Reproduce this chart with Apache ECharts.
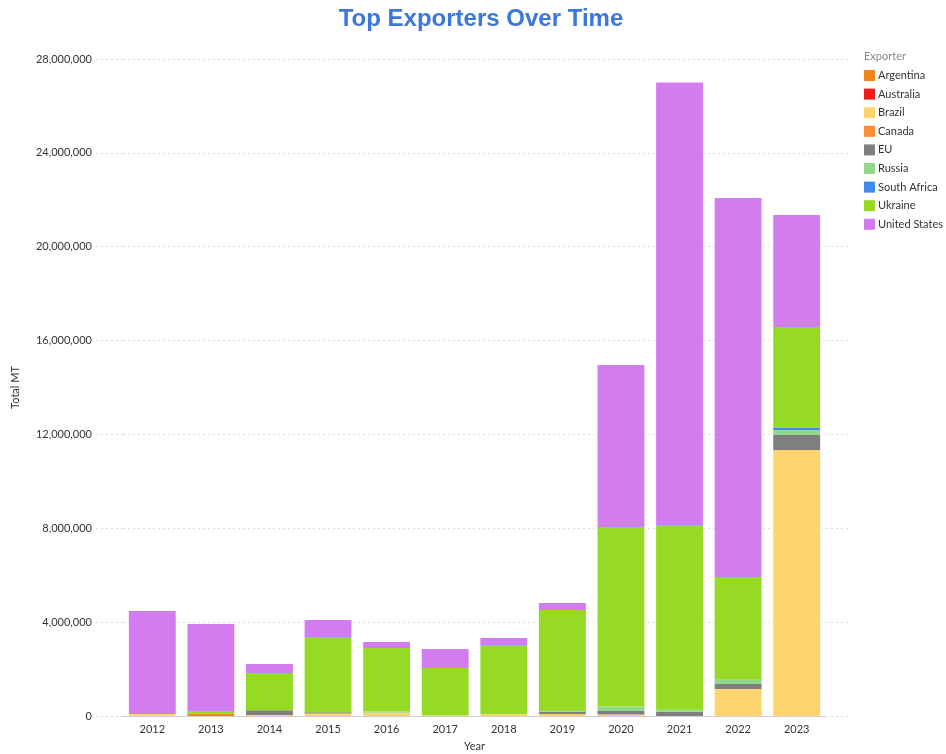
<!DOCTYPE html>
<html>
<head>
<meta charset="utf-8">
<script src="https://cdn.jsdelivr.net/npm/echarts@6/dist/echarts.min.js"></script>
<style>
    html, body { margin: 0; padding: 0; background: #fff; }
    #chart { width: 946px; height: 754px; }
</style>
</head>
<body>
<div id="chart"></div>
<script>
var years = ["2012", "2013", "2014", "2015", "2016", "2017", "2018", "2019", "2020", "2021", "2022", "2023"];

var exporters = ["Argentina", "Australia", "Brazil", "Canada", "EU", "Russia", "South Africa", "Ukraine", "United States"];
var colors = ["#F0851A", "#EE1C1C", "#FFD36E", "#FF8C36", "#7F7F7F", "#92D88C", "#3D8BEF", "#96DA26", "#D37CF0"];

var argentina = [0, 100000, 0, 0, 0, 0, 0, 0, 0, 0, 0, 0];
var australia = [0, 0, 0, 0, 0, 0, 0, 0, 0, 0, 0, 0];
var brazil = [80000, 0, 40000, 110000, 140000, 20000, 70000, 80000, 60000, 0, 1150000, 11340000];
var canada = [0, 0, 0, 0, 0, 0, 0, 0, 0, 0, 0, 0];
var eu = [0, 0, 200000, 50000, 0, 0, 0, 100000, 150000, 180000, 210000, 640000];
var russia = [0, 0, 0, 0, 50000, 0, 0, 30000, 200000, 90000, 180000, 210000];
var southAfrica = [0, 0, 0, 0, 0, 0, 0, 0, 0, 0, 0, 100000];
var ukraine = [0, 80000, 1590000, 3210000, 2710000, 2030000, 2960000, 4310000, 7640000, 7870000, 4380000, 4290000];
var unitedStates = [4390000, 3740000, 390000, 720000, 250000, 810000, 290000, 300000, 6910000, 18860000, 16160000, 4770000];

var yTicks = [0, 4000000, 8000000, 12000000, 16000000, 20000000, 24000000, 28000000];

var seriesValues = [argentina, australia, brazil, canada, eu, russia, southAfrica, ukraine, unitedStates];

var chart = echarts.init(document.getElementById("chart"));

var series = exporters.map(function(name, i) {
    return {
        name: name,
        type: "bar",
        stack: "total",
        barWidth: "80%",
        itemStyle: { color: colors[i] },
        data: seriesValues[i]
    };
});

var gridLine = { color: "#dcdcdc", type: [2, 3], width: 1 };

var option = {
    animation: false,
    textStyle: { fontFamily: "Lato" },
    title: {
        text: "Top Exporters Over Time",
        left: 476,
        textAlign: "center",
        top: 2,
        textStyle: {
            fontFamily: "Liberation Sans",
            fontSize: 24,
            fontWeight: "bold",
            color: "#3A78DC"
        }
    },
    legend: {
        orient: "vertical",
        left: 859,
        top: 65,
        icon: "rect",
        itemWidth: 11,
        itemHeight: 11,
        itemGap: 7.6,
        textStyle: { fontSize: 11, color: "#333", padding: [0, 0, 0, -2] },
        data: exporters
    },
    graphic: [{
        type: "text",
        left: 864,
        top: 51,
        style: { text: "Exporter", fill: "#888", fontSize: 11, fontFamily: "Lato" }
    }],
    grid: { left: 123, right: 120, top: 59, bottom: 38, outerBoundsMode: "none" },
    xAxis: {
        type: "category",
        data: years,
        name: "Year",
        nameLocation: "middle",
        nameGap: 25,
        nameTextStyle: { fontSize: 11, color: "#333" },
        axisLine: { lineStyle: { color: "#d0d0d0" } },
        axisTick: { show: false },
        axisLabel: { fontSize: 11, color: "#333", margin: 8 }
    },
    yAxis: [{
        type: "value",
        min: yTicks[0],
        max: yTicks[yTicks.length - 1],
        interval: yTicks[1] - yTicks[0],
        name: "Total MT",
        nameLocation: "middle",
        nameGap: 102,
        nameTextStyle: { fontSize: 11, color: "#333" },
        axisLine: { show: false },
        axisTick: { show: true, length: 27, lineStyle: gridLine },
        axisLabel: {
            fontSize: 11,
            color: "#333",
            margin: 31,
            formatter: function(v) { return v.toLocaleString("en-US"); }
        },
        splitLine: { lineStyle: gridLine }
    }, {
        type: "value",
        position: "right",
        min: yTicks[0],
        max: yTicks[yTicks.length - 1],
        interval: yTicks[1] - yTicks[0],
        axisLine: { show: false },
        axisTick: { show: true, length: 26, lineStyle: gridLine },
        axisLabel: { show: false },
        splitLine: { show: false }
    }],
    series: series
};

chart.setOption(option);
</script>
</body>
</html>
